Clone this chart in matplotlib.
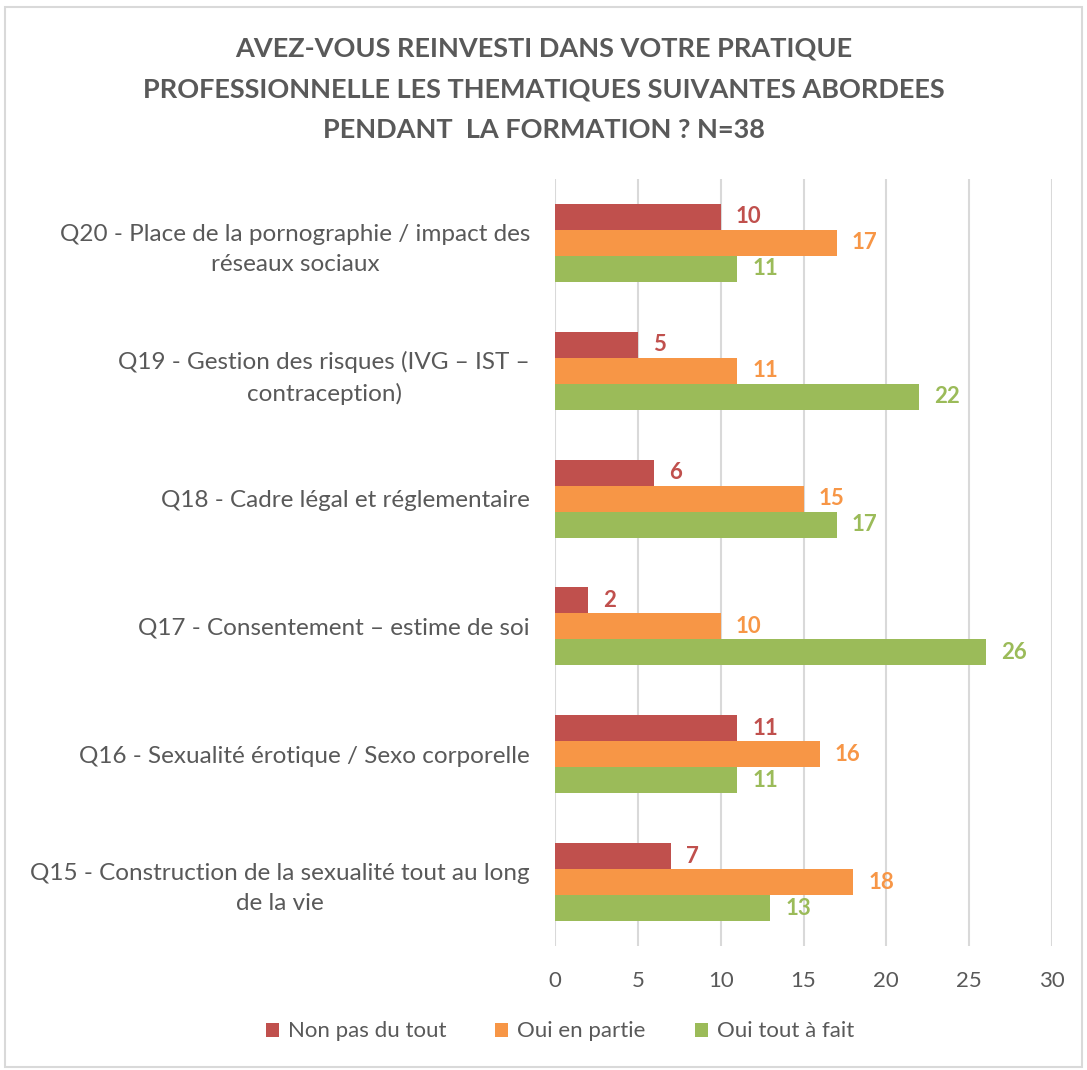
import matplotlib.pyplot as plt
import numpy as np
from matplotlib.patches import Rectangle

categories = [
    "Q20 - Place de la pornographie / impact des\nréseaux sociaux",
    "Q19 - Gestion des risques (IVG – IST –\ncontraception)",
    "Q18 - Cadre légal et réglementaire",
    "Q17 - Consentement – estime de soi",
    "Q16 - Sexualité érotique / Sexo corporelle",
    "Q15 - Construction de la sexualité tout au long\nde la vie",
]
series_names = ["Non pas du tout", "Oui en partie", "Oui tout à fait"]
non_pas = [10, 5, 6, 2, 11, 7]
en_partie = [17, 11, 15, 10, 16, 18]
tout_fait = [11, 22, 17, 26, 11, 13]
xticks = [0, 5, 10, 15, 20, 25, 30]

colors = ["#C0504D", "#F79646", "#9BBB59"]
text_gray = "#595959"

plt.rcParams['font.family'] = ['Lato', 'DejaVu Sans']

fig = plt.figure(figsize=(10.87, 10.70), dpi=100)
ax = fig.add_axes([0.5106, 0.1159, 0.4572, 0.7168])

y = np.arange(len(categories))
h = 0.203
for i, (vals, col, name) in enumerate(zip([non_pas, en_partie, tout_fait], colors, series_names)):
    pos = y + (i - 1) * h
    ax.barh(pos, vals, height=h, color=col, label=name, zorder=3)
    for p, v in zip(pos, vals):
        ax.text(v + 0.9, p, str(v), color=col, fontsize=16, fontweight='bold',
                va='center', ha='left')

ax.set_ylim(len(categories) - 0.5, -0.5)
ax.set_xlim(0, 30)
ax.set_xticks(xticks)
ax.set_yticks(y)
ax.set_yticklabels(categories, fontsize=17.5, color=text_gray, ha='right',
                   multialignment='center', linespacing=1.55)
ax.tick_params(axis='y', length=0, pad=18)
ax.tick_params(axis='x', length=0, pad=18, labelsize=16, labelcolor=text_gray)
ax.grid(axis='x', color="#D9D9D9", linewidth=1.5, zorder=0)
for s in ax.spines.values():
    s.set_visible(False)

fig.text(0.5, 0.966, "AVEZ-VOUS REINVESTI DANS VOTRE PRATIQUE\nPROFESSIONNELLE LES THEMATIQUES SUIVANTES ABORDEES\nPENDANT  LA FORMATION ? N=38",
         ha='center', va='top', fontsize=19.5, fontweight='bold', color=text_gray,
         linespacing=1.85)

fig.legend(loc='lower center', bbox_to_anchor=(0.515, 0.008), ncol=3, frameon=False,
           fontsize=16, labelcolor=text_gray, handlelength=0.6, handleheight=0.6,
           columnspacing=2.2, handletextpad=0.4)

fig.patches.append(Rectangle((0.005, 0.003), 0.99, 0.99, transform=fig.transFigure,
                             fill=False, edgecolor="#D9D9D9", linewidth=1.5))

fig.savefig("out.png", dpi=100)
